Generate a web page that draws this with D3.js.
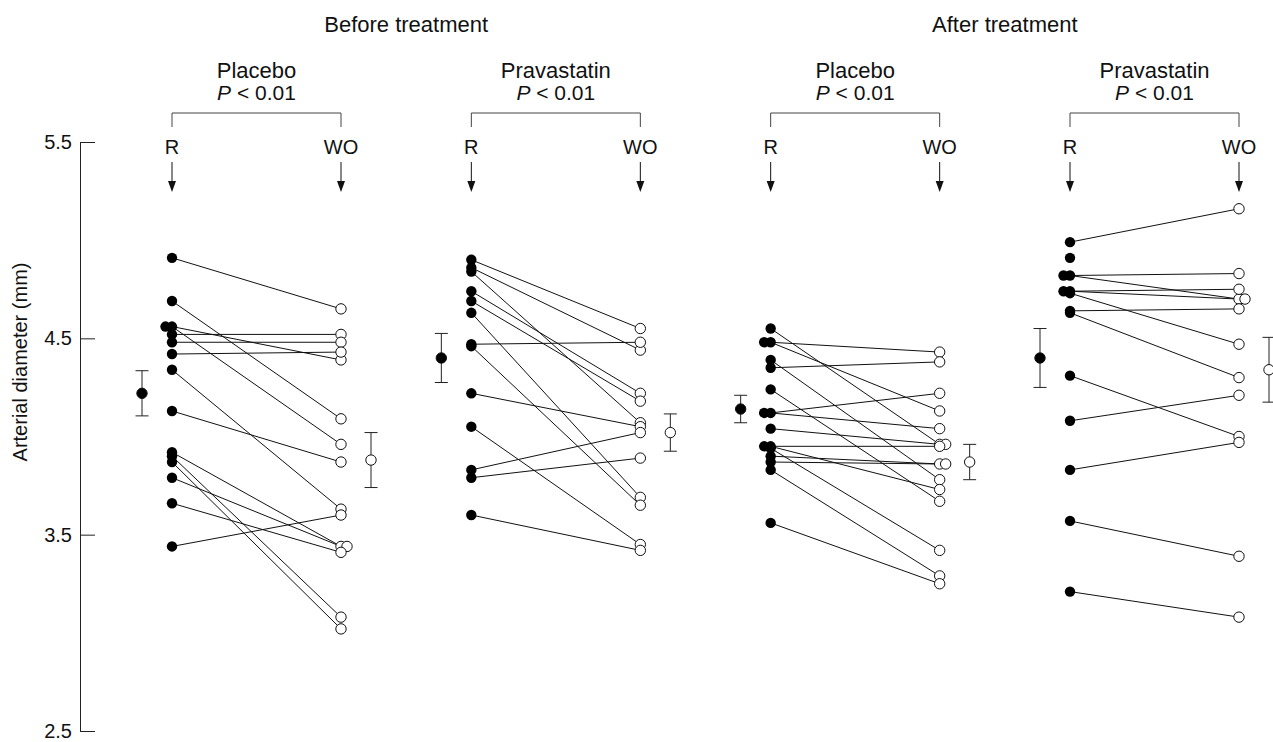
<!DOCTYPE html>
<html>
<head>
<meta charset="utf-8">
<script src="https://cdn.jsdelivr.net/npm/d3@7"></script>
<style>
  body { margin: 0; background: #fff; }
  svg { display: block; font-family: "Liberation Sans", Arial, sans-serif; }
</style>
</head>
<body>
<div id="chart"></div>
<script>
const WIDTH = 1273;
const HEIGHT = 742;

// headings
const treatments = ["Before treatment", "After treatment"];
const drugs = ["Placebo", "Pravastatin", "Placebo", "Pravastatin"];
const pValues = ["< 0.01", "< 0.01", "< 0.01", "< 0.01"];
const timepoints = ["R", "WO"];
const yTicks = [2.5, 3.5, 4.5, 5.5];

// individual patients: value at R and at WO (null = no WO value)
const beforePlaceboR  = [4.91, 4.69, 4.56, 4.56, 4.52, 4.48, 4.42, 4.34, 4.13, 3.92, 3.90, 3.87, 3.79, 3.66, 3.44];
const beforePlaceboWO = [4.65, 4.09, 3.96, 4.39, 4.52, 4.48, 4.43, 3.63, 3.87, 3.44, 3.08, 3.02, 3.44, 3.41, 3.60];

const beforePravaR  = [4.90, 4.86, 4.84, 4.74, 4.69, 4.63, 4.47, 4.46, 4.22, 4.05, 3.83, 3.79, 3.60];
const beforePravaWO = [4.55, 4.44, 4.07, 4.22, 4.18, 3.69, 4.48, 3.65, 4.05, 3.45, 4.02, 3.89, 3.42];

const afterPlaceboR  = [4.55, 4.48, 4.48, 4.39, 4.35, 4.24, 4.12, 4.12, 4.04, 3.95, 3.95, 3.94, 3.90, 3.87, 3.83, 3.56];
const afterPlaceboWO = [3.96, 4.43, 4.13, 3.78, 4.38, 3.67, 4.22, 4.04, 3.96, 3.95, 3.73, 3.42, 3.86, 3.86, 3.29, 3.25];

const afterPravaR  = [4.99, 4.91, 4.82, 4.82, 4.74, 4.74, 4.73, 4.64, 4.63, 4.31, 4.08, 3.83, 3.57, 3.21];
const afterPravaWO = [5.16, null, 4.83, 4.70, 4.75, 4.70, 4.47, 4.65, 4.30, 4.00, 4.21, 3.97, 3.39, 3.08];

// group means with error bars
const meanR  = [4.22, 4.40, 4.14, 4.40];
const errR   = [0.115, 0.125, 0.07, 0.15];
const meanWO = [3.88, 4.02, 3.87, 4.34];
const errWO  = [0.14, 0.095, 0.09, 0.165];

const panels = [
    { r: beforePlaceboR, wo: beforePlaceboWO },
    { r: beforePravaR, wo: beforePravaWO },
    { r: afterPlaceboR, wo: afterPlaceboWO },
    { r: afterPravaR, wo: afterPravaWO },
];

const PAIR_W = 169;
const MEAN_OFF = 30;
const DOT_R = 5.2;

const x = d3.scaleLinear().domain([0, 3]).range([172, 1070]);
const y = d3.scaleLinear().domain([2.5, 5.5]).range([731, 142]);

const svg = d3.select("#chart")
    .append("svg")
    .attr("width", WIDTH)
    .attr("height", HEIGHT);

// y axis
const axis = svg.append("g")
    .attr("transform", "translate(80,0)")
    .call(d3.axisLeft(y)
        .tickValues(yTicks)
        .tickFormat(d3.format(".1f"))
        .tickSizeInner(-15)
        .tickSizeOuter(-15)
        .tickPadding(8));
axis.select(".domain").attr("stroke", "#222");
axis.selectAll(".tick line").attr("stroke", "#222");
axis.selectAll(".tick text")
    .attr("font-size", 20)
    .attr("font-family", "Liberation Sans, Arial, sans-serif")
    .attr("fill", "#111");

svg.append("text")
    .attr("transform", "translate(27,362) rotate(-90)")
    .attr("text-anchor", "middle")
    .attr("font-size", 20)
    .attr("fill", "#111")
    .text("Arterial diameter (mm)");

// treatment headings
treatments.forEach((t, i) => {
    const cx = (x(i * 2) + x(i * 2 + 1)) / 2 + PAIR_W / 2;
    svg.append("text")
        .attr("x", cx).attr("y", 32)
        .attr("text-anchor", "middle")
        .attr("font-size", 22)
        .attr("fill", "#111")
        .text(t);
});

panels.forEach((p, i) => {
    const xr = x(i);
    const xw = x(i) + PAIR_W;
    const g = svg.append("g");

    g.append("text")
        .attr("x", (xr + xw) / 2).attr("y", 78)
        .attr("text-anchor", "middle")
        .attr("font-size", 22)
        .attr("fill", "#111")
        .text(drugs[i]);

    const pt = g.append("text")
        .attr("x", (xr + xw) / 2).attr("y", 100)
        .attr("text-anchor", "middle")
        .attr("font-size", 21)
        .attr("fill", "#111");
    pt.append("tspan").attr("font-style", "italic").text("P");
    pt.append("tspan").text(" " + pValues[i]);

    // bracket
    g.append("path")
        .attr("d", `M${xr},127V113H${xw}V127`)
        .attr("fill", "none")
        .attr("stroke", "#444")
        .attr("stroke-width", 1);

    [xr, xw].forEach((xx, k) => {
        g.append("text")
            .attr("x", xx).attr("y", 154)
            .attr("text-anchor", "middle")
            .attr("font-size", 20)
            .attr("fill", "#111")
            .text(timepoints[k]);
        g.append("line")
            .attr("x1", xx).attr("x2", xx)
            .attr("y1", 162).attr("y2", 182)
            .attr("stroke", "#111");
        g.append("path")
            .attr("d", `M${xx - 4},181L${xx + 4},181L${xx},192Z`)
            .attr("fill", "#111");
    });

    // connecting lines
    p.r.forEach((v, j) => {
        if (p.wo[j] == null) return;
        g.append("line")
            .attr("x1", xr).attr("y1", y(v))
            .attr("x2", xw).attr("y2", y(p.wo[j]))
            .attr("stroke", "#111")
            .attr("stroke-width", 1);
    });

    // equal values are drawn side by side
    const seenR = new Map();
    p.r.forEach((v) => {
        const n = seenR.get(v) || 0;
        seenR.set(v, n + 1);
        g.append("circle")
            .attr("cx", xr - n * 6.5).attr("cy", y(v))
            .attr("r", DOT_R)
            .attr("fill", "#000");
    });
    const seenW = new Map();
    p.wo.forEach((v) => {
        if (v == null) return;
        const n = seenW.get(v) || 0;
        seenW.set(v, n + 1);
        g.append("circle")
            .attr("cx", xw + n * 6).attr("cy", y(v))
            .attr("r", DOT_R)
            .attr("fill", "#fff")
            .attr("stroke", "#111")
            .attr("stroke-width", 1);
    });

    // means with error bars
    [
        { cx: xr - MEAN_OFF, m: meanR[i], e: errR[i], fill: "#000" },
        { cx: xw + MEAN_OFF, m: meanWO[i], e: errWO[i], fill: "#fff" },
    ].forEach((d) => {
        g.append("path")
            .attr("d", `M${d.cx - 6.5},${y(d.m + d.e)}H${d.cx + 6.5}M${d.cx},${y(d.m + d.e)}V${y(d.m - d.e)}M${d.cx - 6.5},${y(d.m - d.e)}H${d.cx + 6.5}`)
            .attr("stroke", "#222")
            .attr("fill", "none");
        g.append("circle")
            .attr("cx", d.cx).attr("cy", y(d.m))
            .attr("r", DOT_R)
            .attr("fill", d.fill)
            .attr("stroke", "#111");
    });
});
</script>
</body>
</html>
